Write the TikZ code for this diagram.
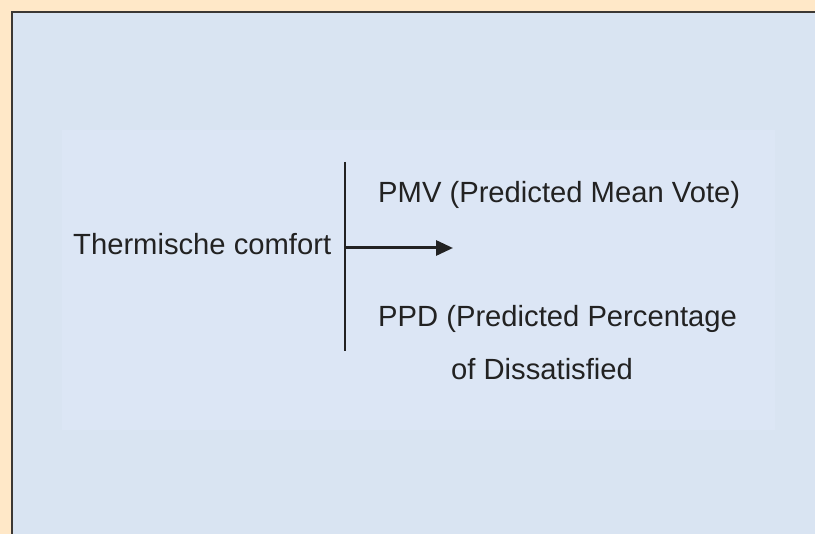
\documentclass[tikz,border=0pt]{standalone}
\usepackage{fontspec}
\setmainfont{Liberation Sans}
\usetikzlibrary{arrows.meta}
\definecolor{outerbg}{RGB}{255,232,200}
\definecolor{innerbg}{RGB}{217,228,242}
\definecolor{panelbg}{RGB}{220,230,245}
\definecolor{framecol}{RGB}{60,56,52}
\definecolor{inkcol}{RGB}{34,34,34}
\tikzset{
  lbl/.style={anchor=base west, inner sep=0pt, text=inkcol, font=\fontsize{29.2}{35}\selectfont},
  connector/.style={draw=inkcol, line width=3pt, -{Triangle[length=17pt,width=15pt]}},
  barline/.style={draw=inkcol, line width=2.6pt}
}
\begin{document}
\begin{tikzpicture}[x=1pt,y=-1pt]
\useasboundingbox (0,0) rectangle (815,534);
\fill[outerbg] (0,0) rectangle (815,534);
\fill[innerbg] (11,11) rectangle (815,534);
\fill[panelbg] (62,130) rectangle (775,430);
\draw[framecol, line width=2.4pt] (12,534) -- (12,12) -- (815,12);
\node[lbl] (tc) at (73,255) {Thermische comfort};
\node[lbl] (pmv) at (378,203) {PMV (Predicted Mean Vote)};
\node[lbl] (ppd) at (378,327) {PPD (Predicted Percentage};
\node[lbl] (dis) at (451,380) {of Dissatisfied};
\coordinate (bartop) at (345,162);
\coordinate (barbot) at (345,351);
\coordinate (arrstart) at (345,248);
\coordinate (arrend) at (453,248);
\draw[barline] (bartop) -- (barbot);
\draw[connector] (arrstart) -- (arrend);
\end{tikzpicture}
\end{document}
